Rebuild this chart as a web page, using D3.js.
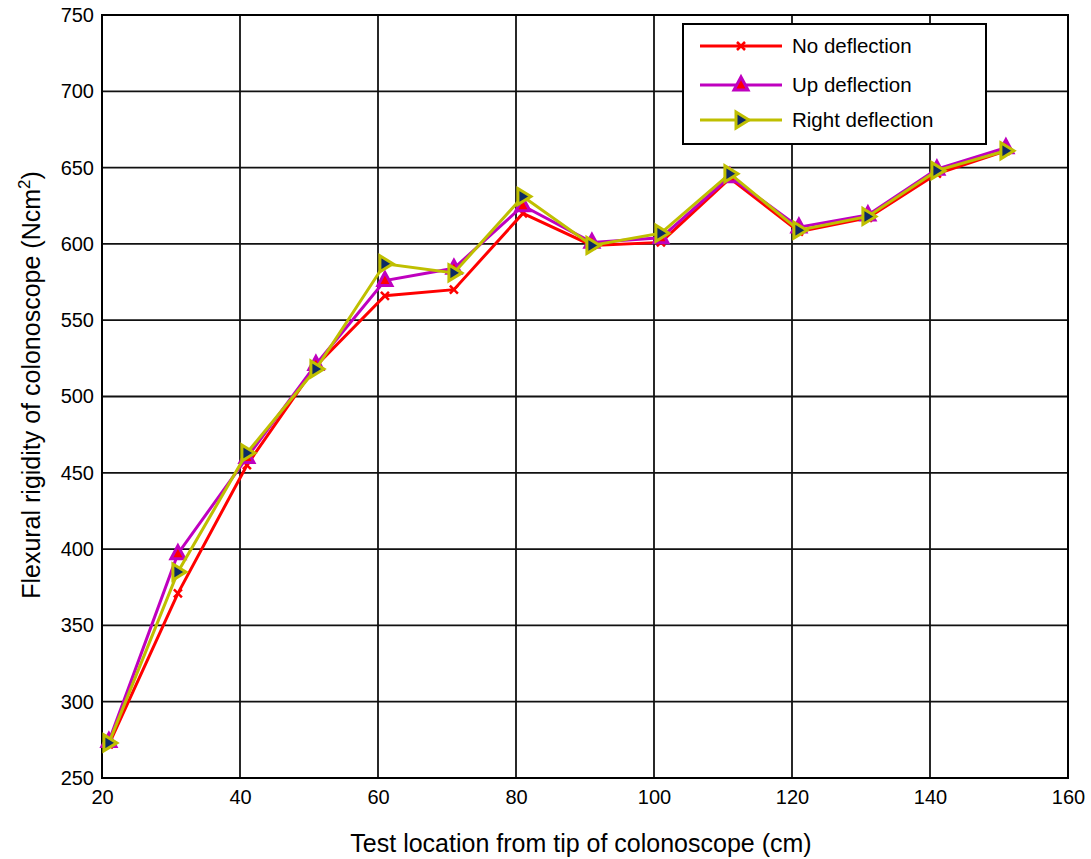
<!DOCTYPE html>
<html>
<head>
<meta charset="utf-8">
<script src="https://cdn.jsdelivr.net/npm/d3@7"></script>
<style>
  body { margin: 0; background: #fff; }
  text { font-family: "Liberation Sans", Arial, sans-serif; fill: #000; }
</style>
</head>
<body>
<div id="chart"></div>
<script>
    // data
    var locations = [21, 31, 41, 51, 61, 71, 81, 91, 101, 111, 121, 131, 141, 151];
    var noDeflection    = [272, 371, 455, 520, 566, 570, 620, 599, 601, 643, 608, 617, 646, 661];
    var upDeflection    = [274, 397, 460, 521, 576, 584, 625, 601, 604, 644, 611, 619, 649, 663];
    var rightDeflection = [273, 385, 463, 518, 587, 581, 631, 599, 607, 646, 609, 618, 648, 661];
    var xTicks = [20, 40, 60, 80, 100, 120, 140, 160];
    var yTicks = [250, 300, 350, 400, 450, 500, 550, 600, 650, 700, 750];
    var seriesNames = ["No deflection", "Up deflection", "Right deflection"];

    var margin = { top: 15, right: 23, bottom: 81, left: 102 },
      width = 1091 - margin.left - margin.right,
      height = 859 - margin.top - margin.bottom;

    var svg = d3.select("#chart")
      .append("svg")
      .attr("width", 1091)
      .attr("height", 859)
      .append("g")
      .attr("transform", "translate(" + margin.left + "," + margin.top + ")");

    var x = d3.scaleLinear().domain([20, 160]).range([0, width]);
    var y = d3.scaleLinear().domain([250, 750]).range([height, 0]);

    // grid lines
    svg.append("g").selectAll("line").data(xTicks).join("line")
      .attr("x1", function (d) { return x(d); })
      .attr("x2", function (d) { return x(d); })
      .attr("y1", 0).attr("y2", height)
      .attr("stroke", "#111").attr("stroke-width", 1.8);
    svg.append("g").selectAll("line").data(yTicks).join("line")
      .attr("x1", 0).attr("x2", width)
      .attr("y1", function (d) { return y(d); })
      .attr("y2", function (d) { return y(d); })
      .attr("stroke", "#111").attr("stroke-width", 1.8);

    // axes
    var xAxis = svg.append("g")
      .attr("transform", "translate(0," + height + ")")
      .call(d3.axisBottom(x).tickValues(xTicks).tickSize(0).tickPadding(12));
    var yAxis = svg.append("g")
      .call(d3.axisLeft(y).tickValues(yTicks).tickSize(0).tickPadding(8));
    [xAxis, yAxis].forEach(function (a) {
      a.select(".domain").remove();
      a.selectAll("text").style("font-size", "20px").attr("font-family", "Liberation Sans, Arial, sans-serif");
    });

    // frame
    svg.append("rect")
      .attr("width", width).attr("height", height)
      .attr("fill", "none").attr("stroke", "#000").attr("stroke-width", 2);

    // series
    var series = [
      { name: seriesNames[0], values: noDeflection, stroke: "#ff0000", fill: "none", marker: "x" },
      { name: seriesNames[1], values: upDeflection, stroke: "#bf00bf", fill: "#ff0000", marker: "up" },
      { name: seriesNames[2], values: rightDeflection, stroke: "#bfbf00", fill: "#0d2a66", marker: "right" }
    ];

    var line = d3.line()
      .x(function (d) { return x(d[0]); })
      .y(function (d) { return y(d[1]); });

    function markerPath(type) {
      if (type === "x") return "M-4,-4L4,4M-4,4L4,-4";
      if (type === "up") return "M0,-8L7,5L-7,5Z";
      return "M-5,-8L8,0L-5,8Z";
    }

    series.forEach(function (s) {
      var pts = locations.map(function (l, i) { return [l, s.values[i]]; });
      svg.append("path")
        .datum(pts)
        .attr("fill", "none")
        .attr("stroke", s.stroke)
        .attr("stroke-width", 3)
        .attr("d", line);
      svg.append("g").selectAll("path").data(pts).join("path")
        .attr("transform", function (d) { return "translate(" + x(d[0]) + "," + y(d[1]) + ")"; })
        .attr("d", markerPath(s.marker))
        .attr("fill", s.fill)
        .attr("stroke", s.stroke)
        .attr("stroke-width", s.marker === "x" ? 2.5 : 3)
        .attr("stroke-linejoin", "miter");
    });

    // legend
    var lg = svg.append("g").attr("transform", "translate(" + (683 - margin.left) + "," + (24 - margin.top) + ")");
    lg.append("rect")
      .attr("width", 303).attr("height", 120)
      .attr("fill", "#fff").attr("stroke", "#000").attr("stroke-width", 2);
    var rowsY = [22, 61, 96];
    series.forEach(function (s, i) {
      var r = lg.append("g").attr("transform", "translate(0," + rowsY[i] + ")");
      r.append("line").attr("x1", 17).attr("x2", 99)
        .attr("stroke", s.stroke).attr("stroke-width", 3);
      r.append("path").attr("transform", "translate(58,0)")
        .attr("d", markerPath(s.marker))
        .attr("fill", s.fill).attr("stroke", s.stroke)
        .attr("stroke-width", s.marker === "x" ? 2.5 : 3);
      r.append("text").attr("x", 109).attr("y", 0).attr("dy", "0.35em")
        .style("font-size", "20.5px").text(s.name);
    });

    // axis titles
    svg.append("text")
      .attr("x", 581 - margin.left)
      .attr("y", height + 74)
      .attr("text-anchor", "middle")
      .style("font-size", "25px")
      .text("Test location from tip of colonoscope (cm)");

    var yt = svg.append("text")
      .attr("transform", "translate(" + (40 - margin.left) + "," + (385 - margin.top) + ") rotate(-90)")
      .attr("text-anchor", "middle")
      .style("font-size", "25px");
    yt.append("tspan").text("Flexural rigidity of colonoscope (Ncm");
    yt.append("tspan").attr("dy", -10).style("font-size", "17px").text("2");
    yt.append("tspan").attr("dy", 10).text(")");
</script>
</body>
</html>
